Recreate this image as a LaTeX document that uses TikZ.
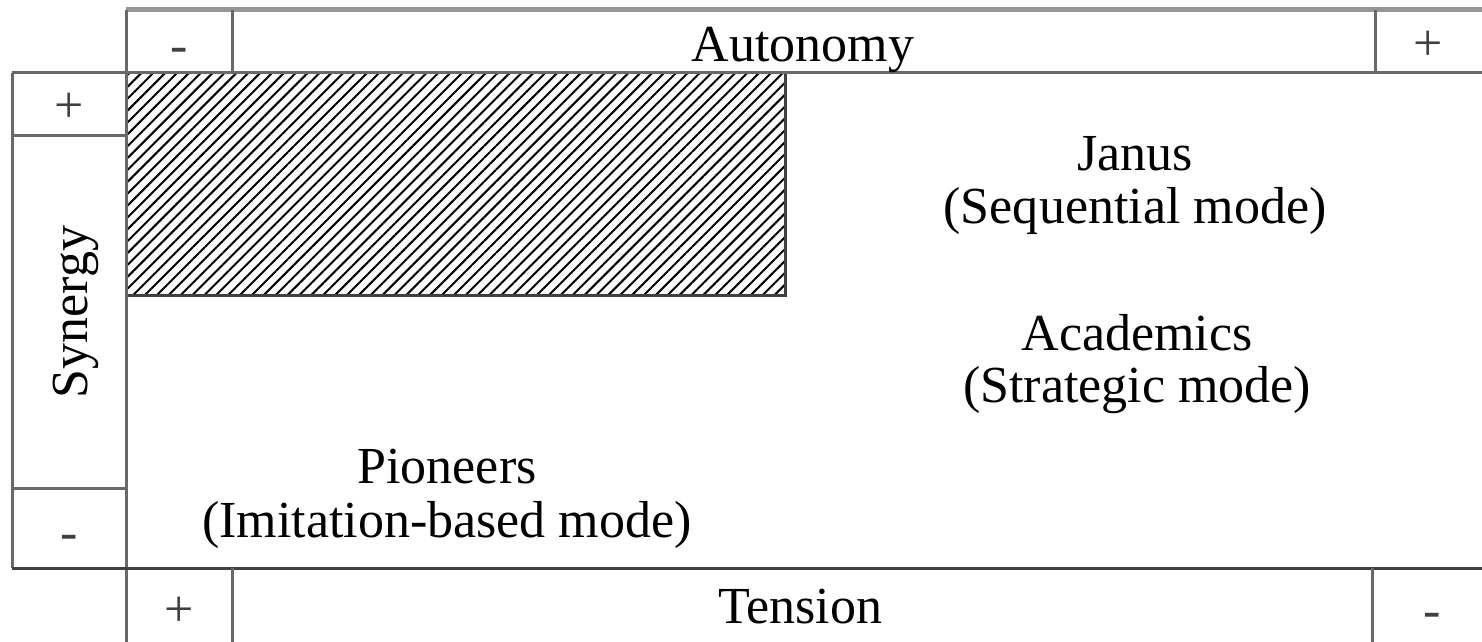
\documentclass[tikz,border=0pt]{standalone}
\usepackage{fontspec}
\setmainfont{Liberation Serif}
\usetikzlibrary{patterns.meta}

\definecolor{gridgray}{RGB}{105,105,105}
\definecolor{lightgray}{RGB}{150,150,150}
\definecolor{darkline}{RGB}{64,64,64}
\tikzset{every picture/.style={line width=1.5pt}}
\tikzset{
  cell line/.style={color=gridgray},
  label text/.style={inner sep=0pt, anchor=base, font=\fontsize{26}{31}\selectfont},
  sign text/.style={inner sep=0pt, anchor=base, font=\fontsize{26}{31}\selectfont, color=darkline},
}

\begin{document}
\begin{tikzpicture}[x=0.5pt,y=0.5pt,yscale=-1,xscale=1]
\useasboundingbox (0,0) rectangle (1482,642);

%Shape: hatched block
\draw [pattern={Lines[angle=45,distance=4.2pt,line width=1pt]}, pattern color=black, draw=none] (127,73) rectangle (785,295);
\draw [color=darkline] (785,73) -- (785,295) -- (127,295) ;

%Straight Lines: autonomy bar
\draw [color=lightgray, line width=2.5pt] (126,10) -- (1482,10) ;
\draw [cell line] (12,73) -- (1482,73) ;
\draw [cell line] (232,10) -- (232,73) ;
\draw [cell line] (1375,10) -- (1375,73) ;
%Straight Lines: synergy bar
\draw [cell line] (126,10) -- (126,642) ;
\draw [cell line] (12,73) -- (12,568) ;
\draw [cell line] (12,135) -- (126,135) ;
\draw [cell line] (12,488) -- (126,488) ;
%Straight Lines: tension bar
\draw [color=darkline] (12,568) -- (1482,568) ;
\draw [cell line] (232,568) -- (232,642) ;
\draw [cell line] (1372,568) -- (1372,642) ;

% Text Node
\node (autMinus) [sign text] at (179,63) {-};
\node (autonomy) [label text] at (803,62) {Autonomy};
\node (autPlus) [sign text] at (1428,61) {+};
% Text Node
\node (synPlus) [sign text] at (69,122) {+};
\node (synergy) [label text, rotate=90] at (87,312) {Synergy};
\node (synMinus) [sign text] at (69,549) {-};
% Text Node
\node (tenPlus) [sign text] at (179,626) {+};
\node (tension) [label text] at (800,623) {Tension};
\node (tenMinus) [sign text] at (1432,627) {-};
% Text Node
\node (janus) [label text] at (1135,170) {Janus};
\node (janusMode) [label text] at (1135,223) {(Sequential mode)};
\node (academics) [label text] at (1137,350) {Academics};
\node (academicsMode) [label text] at (1137,402) {(Strategic mode)};
\node (pioneers) [label text] at (447,483) {Pioneers};
\node (pioneersMode) [label text] at (447,537) {(Imitation-based mode)};

\end{tikzpicture}
\end{document}
